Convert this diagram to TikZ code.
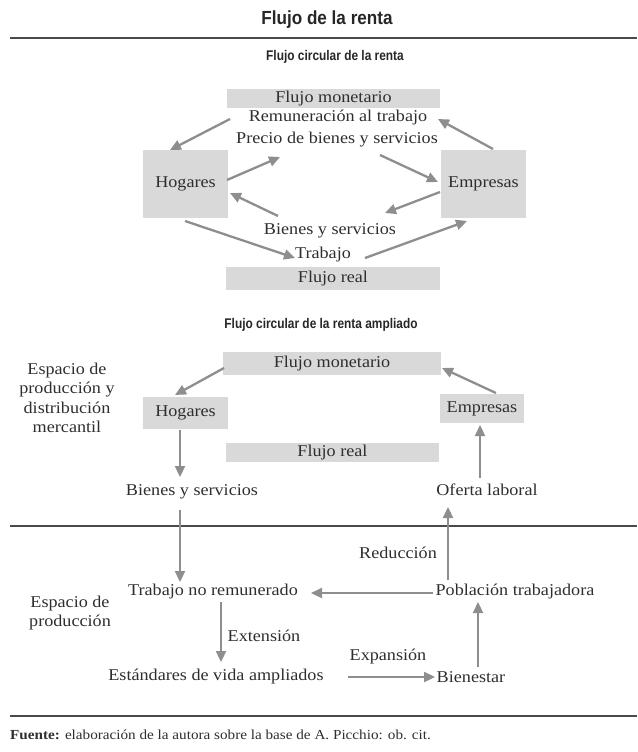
\documentclass[tikz,border=0pt]{standalone}
\usepackage{fontspec}
\setmainfont{Liberation Serif}[FakeStretch=1.1]
\newfontfamily\hsans{Liberation Sans}[FakeStretch=0.9]
\newfontfamily\nsans{Liberation Sans}[FakeStretch=0.85]
\usetikzlibrary{arrows.meta}
\definecolor{boxgray}{HTML}{D9D9D9}
\definecolor{arrgray}{HTML}{8E8E8E}
\definecolor{txtgray}{HTML}{2E2E2E}
\definecolor{rulegray}{HTML}{4A4A4A}
\begin{document}
\begin{tikzpicture}[x=1pt,y=-1pt,
  txt/.style={font=\fontsize{16.5}{19.5}\selectfont, text=txtgray, inner sep=0pt, align=center},
  gbox/.style={txt, fill=boxgray, draw=none},
  arr/.style={draw=arrgray, line width=2.3pt, -{Triangle[length=11pt,width=10pt]}},
  rulel/.style={draw=rulegray, line width=1.8pt}]
\useasboundingbox (0,0) rectangle (637,752);
% titles
\node[font=\hsans\bfseries\fontsize{19}{21}\selectfont, text=black!85, inner sep=0pt] (title) at (327,20) {Flujo de la renta};
\draw[rulel] (10,38) -- (637,38);
\node[font=\nsans\bfseries\fontsize{14}{16}\selectfont, text=black!85, inner sep=0pt] (sub1) at (335,57) {Flujo circular de la renta};
% top diagram
\node[gbox, minimum width=213pt, minimum height=19pt] (fm1) at (333.5,98.5) {Flujo monetario};
\node[txt] (rem) at (338,118) {Remuneración al trabajo};
\node[txt] (pre) at (337,140) {Precio de bienes y servicios};
\node[gbox, minimum width=85pt, minimum height=68pt] (hog1) at (185.5,184) {Hogares};
\node[gbox, minimum width=85pt, minimum height=68pt] (emp1) at (483.5,184) {Empresas};
\node[txt] (bys1) at (330,231) {Bienes y servicios};
\node[txt] (trab1) at (323,255) {Trabajo};
\node[gbox, minimum width=214pt, minimum height=23pt] (fr1) at (333,278.5) {Flujo real};
\draw[arr] ([shift={(-108,1)}]rem.center) -- ([shift={(-15.5,-34)}]hog1.center);
\draw[arr] ([shift={(41.5,-4)}]hog1.center) -- ([shift={(-57,17)}]pre.center);
\draw[arr] ([shift={(43,15)}]pre.center) -- ([shift={(-45.5,-2)}]emp1.center);
\draw[arr] ([shift={(9.5,-35)}]emp1.center) -- ([shift={(100,1)}]rem.center);
\draw[arr] ([shift={(-43.5,8)}]emp1.center) -- ([shift={(55,-18)}]bys1.center);
\draw[arr] ([shift={(-52,-15)}]bys1.center) -- ([shift={(44.5,9)}]hog1.center);
\draw[arr] ([shift={(-0.5,37)}]hog1.center) -- ([shift={(-28,3)}]trab1.center);
\draw[arr] ([shift={(42,3)}]trab1.center) -- ([shift={(-16.5,37)}]emp1.center);
% second diagram
\node[font=\nsans\bfseries\fontsize{14}{16}\selectfont, text=black!85, inner sep=0pt] (sub2) at (321,325) {Flujo circular de la renta ampliado};
\node[txt] (espA) at (67,398) {Espacio de\\producción y\\distribución\\mercantil};
\node[gbox, minimum width=218pt, minimum height=23pt] (fm2) at (332,363.5) {Flujo monetario};
\node[gbox, minimum width=85pt, minimum height=32pt] (hog2) at (185.5,413) {Hogares};
\node[gbox, minimum width=84pt, minimum height=29pt] (emp2) at (482,408.5) {Empresas};
\node[gbox, minimum width=213pt, minimum height=19pt] (fr2) at (332.5,452.5) {Flujo real};
\node[txt] (bys2) at (192,492) {Bienes y servicios};
\node[txt] (ofe) at (487,490) {Oferta laboral};
\draw[rulel] (10,526) -- (637,526);
\node[txt] (red) at (398,553) {Reducción};
\node[txt] (tnr) at (213,592) {Trabajo no remunerado};
\node[txt] (pob) at (515,592) {Población trabajadora};
\node[txt] (espB) at (70,613) {Espacio de\\producción};
\node[txt] (ext) at (264,636) {Extensión};
\node[txt] (exp) at (388,657) {Expansión};
\node[txt] (est) at (216,677) {Estándares de vida ampliados};
\node[txt] (bie) at (471,677) {Bienestar};
\draw[arr] ([shift={(-108,4.5)}]fm2.center) -- ([shift={(-10.5,-18)}]hog2.center);
\draw[arr] ([shift={(14,-15.5)}]emp2.center) -- ([shift={(110,4.5)}]fm2.center);
\draw[arr] ([shift={(-5.5,17)}]hog2.center) -- ([shift={(-12,-15)}]bys2.center);
\draw[arr] ([shift={(-7,-12)}]ofe.center) -- ([shift={(-2,16.5)}]emp2.center);
\draw[arr] ([shift={(-12,18)}]bys2.center) -- ([shift={(-33,-10)}]tnr.center);
\draw[arr] ([shift={(-67,-12)}]pob.center) -- ([shift={(-39,17)}]ofe.center);
\draw[arr] ([shift={(-82,1)}]pob.center) -- ([shift={(98,1)}]tnr.center);
\draw[arr] ([shift={(8,10)}]tnr.center) -- ([shift={(5,-15)}]est.center);
\draw[arr] ([shift={(132,0)}]est.center) -- ([shift={(-36,0)}]bie.center);
\draw[arr] ([shift={(7,-10)}]bie.center) -- ([shift={(-37,10)}]pob.center);
\draw[rulel] (10,716) -- (637,716);
\node[font=\fontsize{13.8}{16}\selectfont, text=txtgray, inner sep=0pt, anchor=west] (src) at (10,735) {\textbf{Fuente:} elaboración de la autora sobre la base de A. Picchio: ob. cit.};
\end{tikzpicture}
\end{document}
